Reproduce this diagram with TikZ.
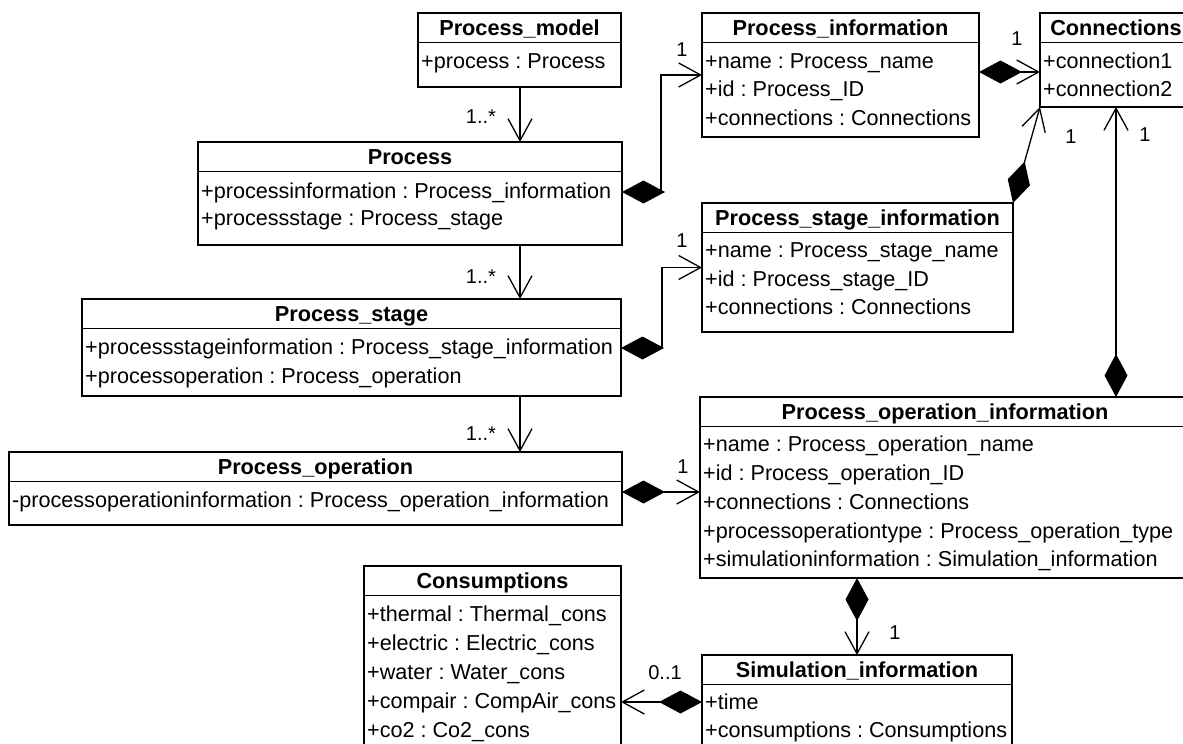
\documentclass[tikz,border=0pt]{standalone}
\usepackage{fontspec}
\setmainfont{Liberation Sans}
\usetikzlibrary{arrows.meta}
\frenchspacing

% class box: name, left, top, width, height, title
\newcommand\umlclass[6]{%
  \node[cbox, minimum width=#4pt, minimum height=#5pt] (#1) at (#2,#3) {};
  \draw[cbline] ([yshift=-29.5pt]#1.north west) -- ([yshift=-29.5pt]#1.north east);
  \node[ctitle] (#1-t) at ([yshift=-16.8pt]#1.north) {#6};
}
% attribute line: name, x, y, text
\newcommand\umlattr[4]{\node[cattr] (#1) at (#2,#3) {#4};}

\begin{document}
\begin{tikzpicture}[x=1pt,y=-1pt,
  cbox/.style={draw, line width=1.3pt, anchor=north west, inner sep=0pt, outer sep=0pt},
  cbline/.style={line width=1.3pt},
  ctitle/.style={font=\fontsize{21.7}{25}\selectfont\bfseries, inner sep=0pt, text height=15pt, text depth=4.5pt},
  cattr/.style={font=\fontsize{21.6}{25}\selectfont, anchor=west, inner sep=0pt, text height=15pt, text depth=4.5pt, yshift=-1.5pt},
  mult/.style={font=\fontsize{20}{24}\selectfont, inner sep=0pt},
  assoc/.style={line width=1.3pt, -{Straight Barb[length=22pt,width=24pt]}},
  comp/.style={line width=1.3pt, {Diamond[length=43pt,width=23pt]}-{Straight Barb[length=22pt,width=24pt]}}
]
\useasboundingbox (0,0) rectangle (1183,744);
\fill[white] (0,0) rectangle (1183,744);
\clip (0,0) rectangle (1183,744);

% ---- classes ----
\umlclass{pm}{418}{13}{203}{74}{Process\_model}
\umlattr{pm-a1}{421}{62}{+process : Process}

\umlclass{pinfo}{702}{13}{277}{124}{Process\_information}
\umlattr{pinfo-a1}{705}{62}{+name : Process\_name}
\umlattr{pinfo-a2}{705}{90}{+id : Process\_ID}
\umlattr{pinfo-a3}{705}{119}{+connections : Connections}

\umlclass{conn}{1040}{13}{152}{94}{Connections}
\umlattr{conn-a1}{1043}{62}{+connection1}
\umlattr{conn-a2}{1043}{90}{+connection2}

\umlclass{proc}{198}{142}{424}{103}{Process}
\umlattr{proc-a1}{201}{192}{+processinformation : Process\_information}
\umlattr{proc-a2}{201}{219}{+processstage : Process\_stage}

\umlclass{psi}{702}{203}{311}{129}{Process\_stage\_information}
\umlattr{psi-a1}{705}{251}{+name : Process\_stage\_name}
\umlattr{psi-a2}{705}{280}{+id : Process\_stage\_ID}
\umlattr{psi-a3}{705}{308}{+connections : Connections}

\umlclass{pst}{82}{299}{539}{97}{Process\_stage}
\umlattr{pst-a1}{85}{348}{+processstageinformation : Process\_stage\_information}
\umlattr{pst-a2}{85}{377}{+processoperation : Process\_operation}

\umlclass{po}{9}{452}{613}{73}{Process\_operation}
\umlattr{po-a1}{12}{501}{-processoperationinformation : Process\_operation\_information}

\umlclass{poi}{700}{397}{490}{181}{Process\_operation\_information}
\umlattr{poi-a1}{703}{445}{+name : Process\_operation\_name}
\umlattr{poi-a2}{703}{474}{+id : Process\_operation\_ID}
\umlattr{poi-a3}{703}{503}{+connections : Connections}
\umlattr{poi-a4}{703}{532}{+processoperationtype : Process\_operation\_type}
\umlattr{poi-a5}{703}{560}{+simulationinformation : Simulation\_information}

\umlclass{cons}{364}{566}{257}{220}{Consumptions}
\umlattr{cons-a1}{367}{615}{+thermal : Thermal\_cons}
\umlattr{cons-a2}{367}{644}{+electric : Electric\_cons}
\umlattr{cons-a3}{367}{673}{+water : Water\_cons}
\umlattr{cons-a4}{367}{702}{+compair : CompAir\_cons}
\umlattr{cons-a5}{367}{731}{+co2 : Co2\_cons}

\umlclass{sim}{702}{655}{310}{150}{Simulation\_information}
\umlattr{sim-a1}{705}{703}{+time}
\umlattr{sim-a2}{705}{731}{+consumptions : Consumptions}

% ---- helper coordinates for connector routing ----
\coordinate (spine) at (520,0);
\coordinate (pcy) at (0,72);
\coordinate (opy) at (0,492);
\coordinate (sy) at (0,702);

% ---- associations ----
\draw[assoc] (spine |- pm.south) -- (spine |- proc.north);
\draw[assoc] (spine |- proc.south) -- (spine |- pst.north);
\draw[assoc] (spine |- pst.south) -- (spine |- po.north);

% ---- compositions ----
\draw[comp] (proc.east |- 0,192) -- ++(39,0) |- (pinfo.west);
\draw[comp] (pst.east |- 0,348) -- ++(41,0) |- (psi.west);
\draw[comp] (pinfo.east |- pcy) -- (conn.west |- pcy);
\draw[comp] (psi.north east) -- (conn.south west);
\draw[comp] (conn.south |- poi.north) -- (conn.south);
\draw[comp] (po.east |- opy) -- (poi.west |- opy);
\draw[comp] (sim.north |- poi.south) -- (sim.north);
\draw[comp] (sim.west |- sy) -- (cons.east |- sy);

% ---- multiplicities ----
\node[mult] (m1) at (481,117) {1..*};
\node[mult] (m2) at (481,277) {1..*};
\node[mult] (m3) at (481,434) {1..*};
\node[mult] (m4) at (682,50) {1};
\node[mult] (m5) at (682,241) {1};
\node[mult] (m6) at (683,467) {1};
\node[mult] (m7) at (1017,39) {1};
\node[mult] (m8) at (1071,137) {1};
\node[mult] (m9) at (1145,135) {1};
\node[mult] (m10) at (895,633) {1};
\node[mult] (m11) at (665,673) {0..1};
\end{tikzpicture}
\end{document}
